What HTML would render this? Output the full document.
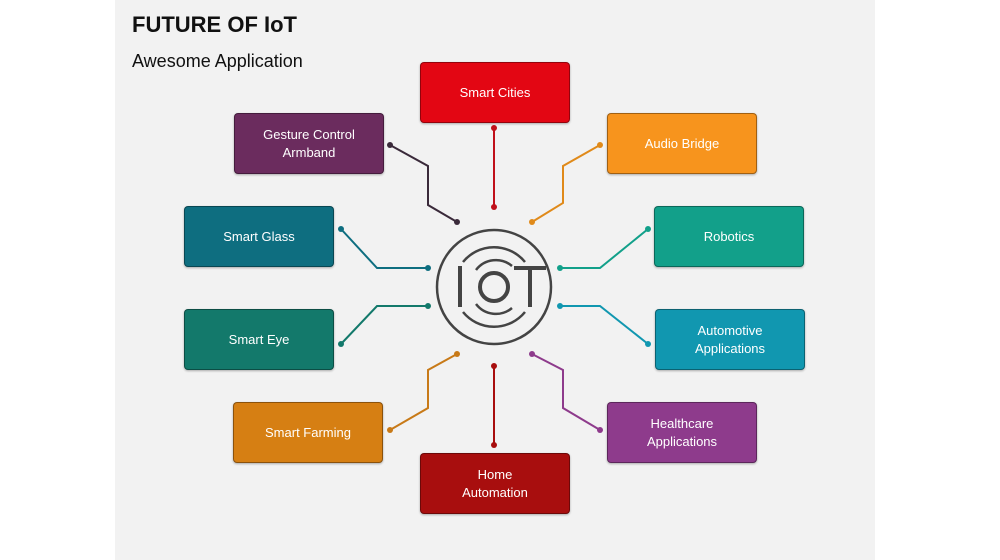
<!DOCTYPE html><html><head><style>
body{margin:0;width:1000px;height:560px;background:#fff;position:relative;overflow:hidden;font-family:"Liberation Sans",sans-serif}
.slide{position:absolute;left:115px;top:0;width:760px;height:560px;background:#f2f2f2}
.b{position:absolute;width:148px;height:59px;border:1px solid rgba(0,0,0,.35);border-radius:4px;color:#fff;font-size:13px;display:flex;align-items:center;justify-content:center;text-align:center;line-height:18px;box-shadow:0 1px 2px rgba(0,0,0,.3)}
h1{position:absolute;left:132px;top:12px;margin:0;font-size:22px;font-weight:bold;color:#111}
h2{position:absolute;left:132px;top:51px;margin:0;font-size:18px;font-weight:normal;color:#111}
svg{position:absolute;left:0;top:0}
</style></head><body>
<div class="slide"></div>
<h1>FUTURE OF IoT</h1><h2>Awesome Application</h2>
<svg width="1000" height="560" fill="none" stroke-width="2">
<g stroke="#3a2a3a"><polyline points="390,145 428,166 428,205 457,222"/></g>
<g stroke="#c0101a"><line x1="494" y1="128" x2="494" y2="207"/></g>
<g stroke="#e08a1a"><polyline points="600,145 563,166 563,203 532,222"/></g>
<g stroke="#0e6e80"><polyline points="341,229 377,268 428,268"/></g>
<g stroke="#12a08a"><polyline points="648,229 600,268 560,268"/></g>
<g stroke="#13796b"><polyline points="341,344 377,306 428,306"/></g>
<g stroke="#1197b0"><polyline points="648,344 600,306 560,306"/></g>
<g stroke="#c87a18"><polyline points="390,430 428,408 428,370 457,354"/></g>
<g stroke="#a80e0e"><line x1="494" y1="445" x2="494" y2="366"/></g>
<g stroke="#8e3b8c"><polyline points="600,430 563,408 563,370 532,354"/></g>
<g stroke="none">
<circle cx="390" cy="145" r="3" fill="#3a2a3a"/><circle cx="457" cy="222" r="3" fill="#3a2a3a"/>
<circle cx="494" cy="128" r="3" fill="#c0101a"/><circle cx="494" cy="207" r="3" fill="#c0101a"/>
<circle cx="600" cy="145" r="3" fill="#e08a1a"/><circle cx="532" cy="222" r="3" fill="#e08a1a"/>
<circle cx="341" cy="229" r="3" fill="#0e6e80"/><circle cx="428" cy="268" r="3" fill="#0e6e80"/>
<circle cx="648" cy="229" r="3" fill="#12a08a"/><circle cx="560" cy="268" r="3" fill="#12a08a"/>
<circle cx="341" cy="344" r="3" fill="#13796b"/><circle cx="428" cy="306" r="3" fill="#13796b"/>
<circle cx="648" cy="344" r="3" fill="#1197b0"/><circle cx="560" cy="306" r="3" fill="#1197b0"/>
<circle cx="390" cy="430" r="3" fill="#c87a18"/><circle cx="457" cy="354" r="3" fill="#c87a18"/>
<circle cx="494" cy="445" r="3" fill="#a80e0e"/><circle cx="494" cy="366" r="3" fill="#a80e0e"/>
<circle cx="600" cy="430" r="3" fill="#8e3b8c"/><circle cx="532" cy="354" r="3" fill="#8e3b8c"/>
</g>
<g stroke="#444">
<circle cx="494" cy="287" r="57" stroke-width="2.5"/>
<path d="M463,262 A40,40 0 0 1 525,262" stroke-width="2.5"/>
<path d="M476,270 A25,25 0 0 1 512,266" stroke-width="2.5"/>
<path d="M463,312 A40,40 0 0 0 525,312" stroke-width="2.5"/>
<path d="M476,304 A25,25 0 0 0 512,308" stroke-width="2.5"/>
<line x1="460" y1="266" x2="460" y2="307" stroke-width="4"/>
<circle cx="494" cy="287" r="14" stroke-width="4"/>
<line x1="514" y1="268" x2="546" y2="268" stroke-width="4"/>
<line x1="530" y1="268" x2="530" y2="307" stroke-width="4"/>
</g>
</svg>
<div class="b" style="left:420px;top:62px;background:#e30613">Smart Cities</div>
<div class="b" style="left:234px;top:113px;background:#6b2c5e">Gesture Control<br>Armband</div>
<div class="b" style="left:607px;top:113px;background:#f7941d">Audio Bridge</div>
<div class="b" style="left:184px;top:206px;background:#0e6e80">Smart Glass</div>
<div class="b" style="left:654px;top:206px;background:#12a08a">Robotics</div>
<div class="b" style="left:184px;top:309px;background:#13796b">Smart Eye</div>
<div class="b" style="left:655px;top:309px;background:#1197b0">Automotive<br>Applications</div>
<div class="b" style="left:233px;top:402px;background:#d67f13">Smart Farming</div>
<div class="b" style="left:607px;top:402px;background:#8e3b8c">Healthcare<br>Applications</div>
<div class="b" style="left:420px;top:453px;background:#a80e0e">Home<br>Automation</div>
</body></html>
